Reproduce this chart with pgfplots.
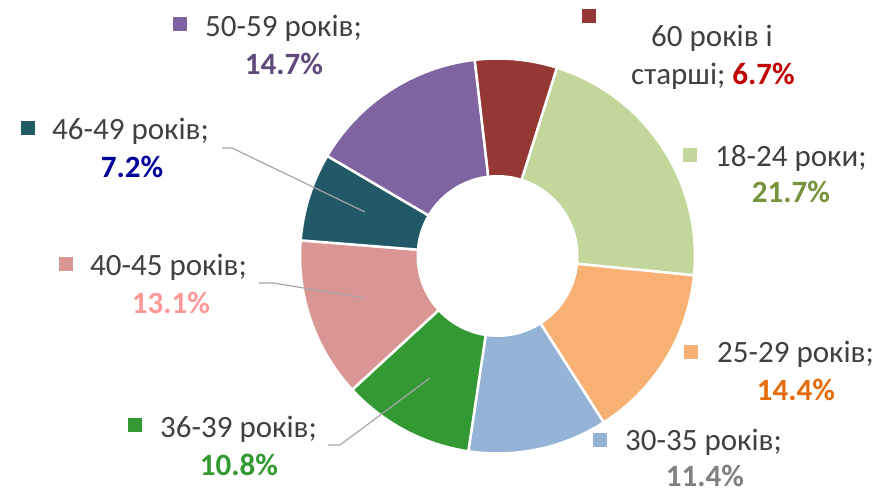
\documentclass[border=0pt]{standalone}
\usepackage{pgfplots}
\pgfplotsset{compat=1.18}
\usepackage{fontspec}
\setmainfont{Carlito}
\definecolor{c1}{HTML}{C4D79B}
\definecolor{c2}{HTML}{F8B073}
\definecolor{c3}{HTML}{95B3D7}
\definecolor{c4}{HTML}{339933}
\definecolor{c5}{HTML}{DA9694}
\definecolor{c6}{HTML}{215967}
\definecolor{c7}{HTML}{8064A2}
\definecolor{c8}{HTML}{953735}
\definecolor{txt}{HTML}{404040}
\definecolor{p1}{HTML}{76933C}
\definecolor{p2}{HTML}{E46C0A}
\definecolor{p3}{HTML}{808080}
\definecolor{p4}{HTML}{339933}
\definecolor{p5}{HTML}{FF9999}
\definecolor{p6}{HTML}{000099}
\definecolor{p7}{HTML}{604A7B}
\definecolor{p8}{HTML}{C00000}
\definecolor{lead}{HTML}{A6A6A6}
\newcommand\lab{\fontsize{31}{37}\selectfont}
\begin{document}
\begin{tikzpicture}
\begin{axis}[scale only axis, width=879pt, height=491pt,
  xmin=0, xmax=879, ymin=0, ymax=491, hide axis, clip=false]
% slices: percentage / colour, clockwise from 72.5 degrees
\xdef\astart{72.5}
\foreach \v/\c in {21.7/c1,14.4/c2,11.4/c3,10.8/c4,13.1/c5,7.2/c6,14.7/c7,6.7/c8}{
  \pgfmathsetmacro\aend{\astart-3.6*\v}
  \edef\temp{\noexpand\fill[\c, draw=white, line width=2.5pt, line join=round] (axis cs:497.5,235) -- ++(\astart:197.5pt) arc[start angle=\astart, end angle=\aend, radius=197.5pt] -- cycle;}
  \temp
  \xdef\astart{\aend}
}
\fill[white] (axis cs:497.5,235) circle[radius=81pt];
% leader lines
\draw[lead, line width=1.2pt] (axis cs:222,343) -- (axis cs:232,343) -- (axis cs:365,279);
\draw[lead, line width=1.2pt] (axis cs:259,208) -- (axis cs:273,208) -- (axis cs:365,193);
\draw[lead, line width=1.2pt] (axis cs:328,46) -- (axis cs:340,46) -- (axis cs:430,113);
% labels
\tikzset{key/.style={inner sep=0pt, minimum size=14pt}, t/.style={inner sep=0pt, text=txt, font=\lab}}
% 50-59
\node[key, fill=c7] at (axis cs:180,466.5) {};
\node[t, anchor=base west] at (axis cs:205,454) {50-59 років;};
\node[t, anchor=base, text=p7, font=\lab\bfseries] at (axis cs:284,416) {14.7\%};
% 60+
\node[key, fill=c8] at (axis cs:589,474.5) {};
\node[t, anchor=base] at (axis cs:712,444) {60 років і};
\node[t, anchor=base] at (axis cs:713,406) {старші; \textcolor{p8}{\bfseries 6.7\%}};
% 18-24
\node[key, fill=c1] at (axis cs:690,336) {};
\node[t, anchor=base west] at (axis cs:715,324) {18-24 роки;};
\node[t, anchor=base, text=p1, font=\lab\bfseries] at (axis cs:791,288) {21.7\%};
% 25-29
\node[key, fill=c2] at (axis cs:691,139.5) {};
\node[t, anchor=base west] at (axis cs:717,129) {25-29 років;};
\node[t, anchor=base, text=p2, font=\lab\bfseries] at (axis cs:796,91) {14.4\%};
% 30-35
\node[key, fill=c3] at (axis cs:600,51) {};
\node[t, anchor=base west] at (axis cs:625,41) {30-35 років;};
\node[t, anchor=base, text=p3, font=\lab\bfseries] at (axis cs:705,5) {11.4\%};
% 36-39
\node[key, fill=c4] at (axis cs:135,66) {};
\node[t, anchor=base west] at (axis cs:160,54) {36-39 років;};
\node[t, anchor=base, text=p4, font=\lab\bfseries] at (axis cs:239,16) {10.8\%};
% 46-49
\node[key, fill=c6] at (axis cs:28,362.5) {};
\node[t, anchor=base west] at (axis cs:52,351) {46-49 років;};
\node[t, anchor=base, text=p6, font=\lab\bfseries] at (axis cs:132,313) {7.2\%};
% 40-45
\node[key, fill=c5] at (axis cs:66,227) {};
\node[t, anchor=base west] at (axis cs:90,216) {40-45 років;};
\node[t, anchor=base, text=p5, font=\lab\bfseries] at (axis cs:171,178) {13.1\%};
\end{axis}
\pgfresetboundingbox
\useasboundingbox (current axis.south west) rectangle (current axis.north east);
\end{tikzpicture}
\end{document}
